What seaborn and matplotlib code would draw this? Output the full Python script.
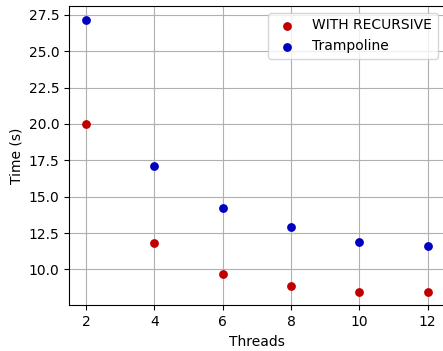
import pandas as pd
import matplotlib
matplotlib.use("Agg")
import matplotlib.pyplot as plt
import seaborn as sns

# -------------------------------------
# Data
# -------------------------------------
threads = [2, 4, 6, 8, 10, 12]
recursive_time = [20.02, 11.79, 9.66, 8.85, 8.46, 8.46]
trampoline_time = [27.18, 17.09, 14.20, 12.93, 11.86, 11.59]

rec_df = pd.DataFrame({"Threads": threads, "Time": recursive_time})
tra_df = pd.DataFrame({"Threads": threads, "Time": trampoline_time})

# -------------------------------------
# Plot
# -------------------------------------
fig = plt.figure(figsize=(4.43, 3.51), dpi=100)
ax = fig.add_axes([0.156, 0.130, 0.848, 0.853])

sns.scatterplot(data=rec_df, x="Threads", y="Time", color="#c00000",
                s=40, linewidth=0, label="WITH RECURSIVE", ax=ax, zorder=3)
sns.scatterplot(data=tra_df, x="Threads", y="Time", color="#0000c0",
                s=40, linewidth=0, label="Trampoline", ax=ax, zorder=3)

ax.grid(True, color="#b0b0b0", linewidth=0.8)
ax.set_xticks([2, 4, 6, 8, 10, 12])
ax.set_xlabel("Threads")
ax.set_ylabel("Time (s)")
ax.legend(loc="upper right")

fig.savefig("out.png", dpi=100)
